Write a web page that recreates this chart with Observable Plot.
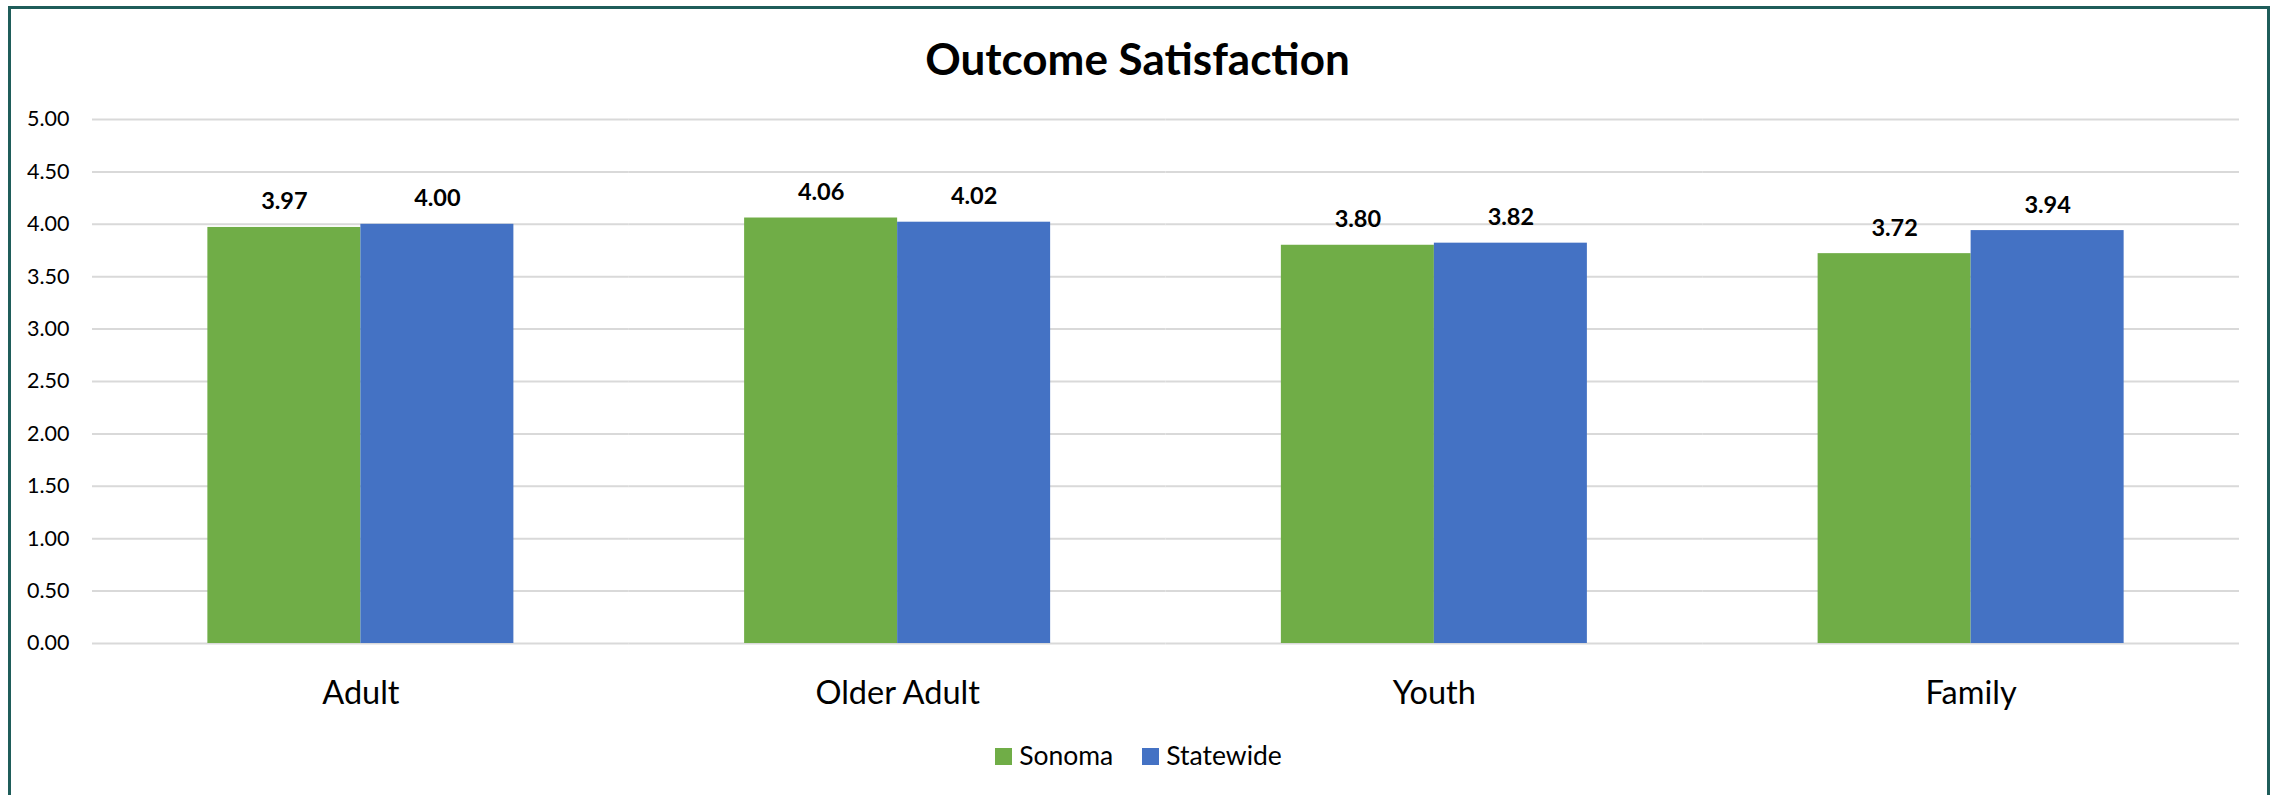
<!DOCTYPE html>
<html>
<head>
<meta charset="utf-8">
<script src="https://cdn.jsdelivr.net/npm/d3@7"></script>
<script src="https://cdn.jsdelivr.net/npm/@observablehq/plot@0.6"></script>
<style>
  html, body { margin: 0; padding: 0; background: #fff; }
  body { width: 2275px; height: 795px; position: relative; overflow: hidden; font-family: Lato, "Open Sans", sans-serif; }
  .frame { position: absolute; left: 8px; top: 6px; width: 2256px; height: 800px; border: 3px solid #1f5d5a; border-bottom: none; box-sizing: content-box; }
  .title { position: absolute; left: 0; top: 36px; width: 2275px; text-align: center; font-size: 44px; font-weight: 700; line-height: 44px; color: #000; }
  #chart { position: absolute; left: 0; top: 90px; }
  .legend { position: absolute; left: 1px; top: 742px; width: 2275px; display: flex; justify-content: center; font-size: 26.5px; line-height: 26px; color: #000; }
  .legend .item { margin: 0 14.5px; white-space: nowrap; }
  .legend .sw { display: inline-block; width: 17px; height: 17px; margin-right: 7px; vertical-align: baseline; }
</style>
</head>
<body>
<div class="frame"></div>
<div class="title">Outcome Satisfaction</div>
<div id="chart"></div>
<div class="legend" id="legend"></div>
<script>
// Survey groups and mean satisfaction scores
const categories = ["Adult", "Older Adult", "Youth", "Family"];
const series = ["Sonoma", "Statewide"];
const sonoma = [3.97, 4.06, 3.80, 3.72];
const statewide = [4.00, 4.02, 3.82, 3.94];
const yTicks = [0, 0.5, 1, 1.5, 2, 2.5, 3, 3.5, 4, 4.5, 5];
const colors = ["#70ad47", "#4472c4"];

const values = {Sonoma: sonoma, Statewide: statewide};
const rows = categories.flatMap((category, i) =>
  series.map(s => ({category, series: s, value: values[s][i]}))
);

const fmt = d3.format(".2f");

const chart = Plot.plot({
  width: 2275,
  height: 635,
  marginTop: 29,
  marginBottom: 82,
  marginLeft: 92,
  marginRight: 36,
  style: {fontFamily: "Lato, 'Open Sans', sans-serif", fontSize: "21px", color: "#000", background: "transparent"},
  fx: {domain: categories, padding: 0, label: null, round: false},
  x: {domain: series, paddingInner: 0, paddingOuter: 0.754, axis: null, round: false},
  y: {domain: [0, 5], label: null},
  color: {domain: series, range: colors},
  marks: [
    Plot.gridY(yTicks, {stroke: "#d9d9d9", strokeOpacity: 1, strokeWidth: 2}),
    Plot.axisY(yTicks, {tickSize: 0, tickPadding: 23, tickFormat: fmt, fontSize: 21.5, fill: "#000", label: null}),
    Plot.axisFx({anchor: "bottom", tickSize: 0, tickPadding: 37, fontSize: 32.5, fill: "#000", label: null}),
    Plot.barY(rows, {fx: "category", x: "series", y: "value", fill: "series"}),
    Plot.text(rows, {
      fx: "category", x: "series", y: "value",
      text: d => fmt(d.value),
      lineAnchor: "bottom", dy: -18,
      fontSize: 23.5, fontWeight: "bold", fill: "#000"
    })
  ]
});
document.getElementById("chart").appendChild(chart);

// Legend built from the same series and colours
const legend = document.getElementById("legend");
series.forEach((s, i) => {
  const item = document.createElement("span");
  item.className = "item";
  const sw = document.createElement("span");
  sw.className = "sw";
  sw.style.background = colors[i];
  item.appendChild(sw);
  item.appendChild(document.createTextNode(s));
  legend.appendChild(item);
});
</script>
</body>
</html>
